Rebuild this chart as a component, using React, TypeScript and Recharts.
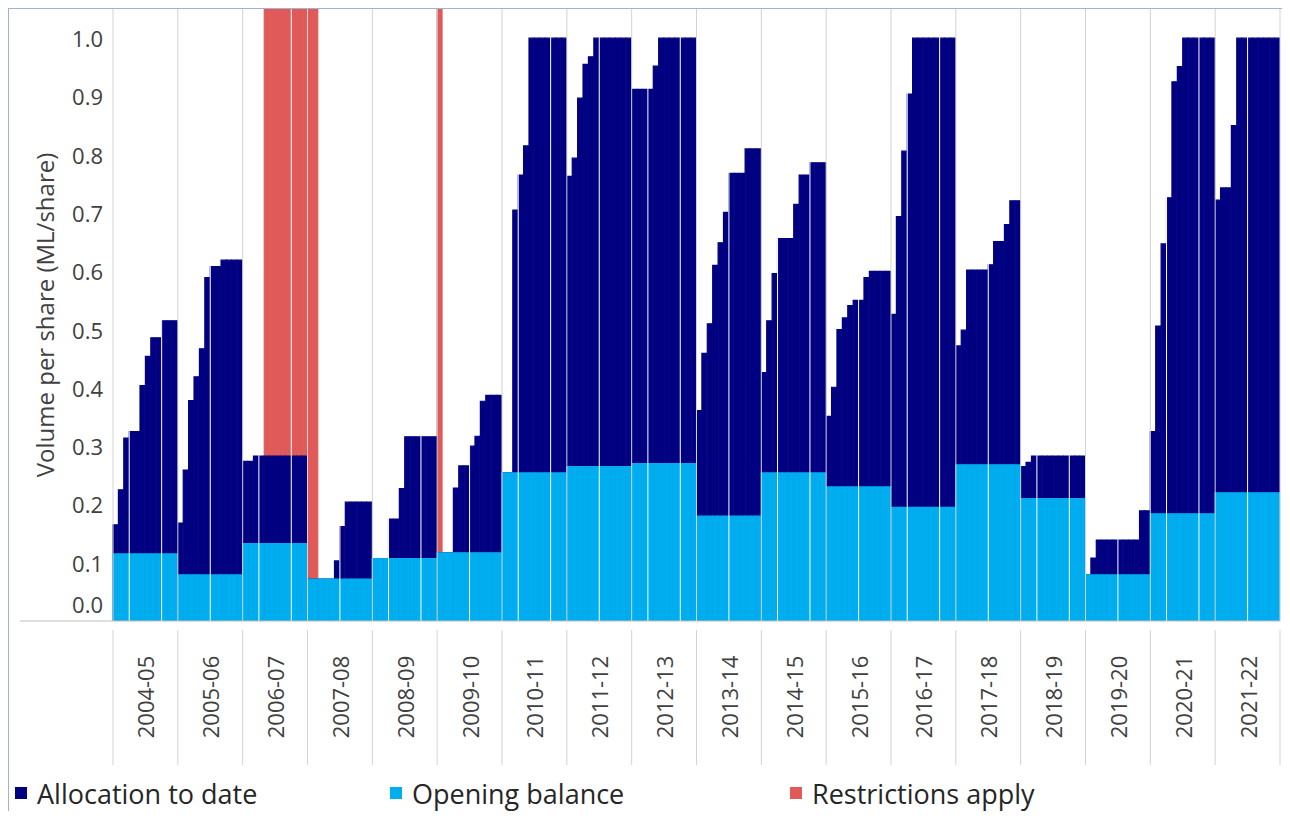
import React from "react";
import { BarChart, Bar, XAxis, YAxis, ReferenceLine } from "recharts";

// Water years shown on the category axis
const years = [
  "2004-05", "2005-06", "2006-07", "2007-08", "2008-09", "2009-10",
  "2010-11", "2011-12", "2012-13", "2013-14", "2014-15", "2015-16",
  "2016-17", "2017-18", "2018-19", "2019-20", "2020-21", "2021-22",
];

// Opening balance per year (ML/share), same for every month of the year
const openingBalance = [
  0.115, 0.079, 0.133, 0.072, 0.107, 0.117, 0.254, 0.265, 0.27,
  0.18, 0.254, 0.23, 0.195, 0.268, 0.21, 0.079, 0.184, 0.22,
];

// Allocation to date, read as the top of the dark bar, month by month
const allocationToDate = [
  [0.165, 0.225, 0.314, 0.325, 0.325, 0.404, 0.454, 0.486, 0.486, 0.515, 0.515, 0.515], // 2004-05
  [0.168, 0.259, 0.378, 0.419, 0.467, 0.589, 0.608, 0.608, 0.619, 0.619, 0.619, 0.619], // 2005-06
  [0.274, 0.274, 0.283, 0.283, 0.283, 0.283, 0.283, 0.283, 0.283, 0.283, 0.283, 0.283], // 2006-07
  [0.072, 0.072, 0.072, 0.072, 0.072, 0.103, 0.162, 0.204, 0.204, 0.204, 0.204, 0.204], // 2007-08
  [0.107, 0.107, 0.107, 0.175, 0.175, 0.227, 0.316, 0.316, 0.316, 0.316, 0.316, 0.316], // 2008-09
  [0.117, 0.117, 0.117, 0.228, 0.266, 0.266, 0.3, 0.317, 0.377, 0.387, 0.387, 0.387], // 2009-10
  [0.254, 0.254, 0.705, 0.765, 0.815, 1.0, 1.0, 1.0, 1.0, 1.0, 1.0, 1.0], // 2010-11
  [0.763, 0.794, 0.897, 0.955, 0.968, 1.0, 1.0, 1.0, 1.0, 1.0, 1.0, 1.0], // 2011-12
  [0.912, 0.912, 0.912, 0.912, 0.952, 1.0, 1.0, 1.0, 1.0, 1.0, 1.0, 1.0], // 2012-13
  [0.361, 0.459, 0.51, 0.61, 0.649, 0.701, 0.768, 0.768, 0.768, 0.81, 0.81, 0.81], // 2013-14
  [0.426, 0.515, 0.596, 0.656, 0.656, 0.656, 0.715, 0.765, 0.765, 0.786, 0.786, 0.786], // 2014-15
  [0.351, 0.401, 0.5, 0.52, 0.541, 0.55, 0.55, 0.589, 0.6, 0.6, 0.6, 0.6], // 2015-16
  [0.526, 0.694, 0.806, 0.904, 1.0, 1.0, 1.0, 1.0, 1.0, 1.0, 1.0, 1.0], // 2016-17
  [0.472, 0.499, 0.602, 0.602, 0.602, 0.602, 0.611, 0.651, 0.651, 0.68, 0.721, 0.721], // 2017-18
  [0.265, 0.272, 0.283, 0.283, 0.283, 0.283, 0.283, 0.283, 0.283, 0.283, 0.283, 0.283], // 2018-19
  [0.079, 0.108, 0.139, 0.139, 0.139, 0.139, 0.139, 0.139, 0.139, 0.139, 0.189, 0.189], // 2019-20
  [0.325, 0.506, 0.647, 0.726, 0.925, 0.951, 1.0, 1.0, 1.0, 1.0, 1.0, 1.0], // 2020-21
  [0.722, 0.743, 0.743, 0.85, 1.0, 1.0, 1.0, 1.0, 1.0, 1.0, 1.0, 1.0], // 2021-22
];

// Months (0 = first month of the water year) where restrictions apply
const restrictedMonths: Record<string, number[]> = {
  "2006-07": [4, 5, 6, 7, 8, 9, 10, 11],
  "2007-08": [0, 1],
  "2009-10": [0],
};
// restriction bars run off the top of the axis
const RESTRICTED_TOP = 1.05;

const yTicks = [0, 0.1, 0.2, 0.3, 0.4, 0.5, 0.6, 0.7, 0.8, 0.9, 1.0];

const data = years.flatMap((year, y) =>
  allocationToDate[y].map((total, m) => ({
    idx: y * 12 + m,
    year,
    total,
    opening: openingBalance[y],
    restricted: restrictedMonths[year]?.includes(m) ? RESTRICTED_TOP : null,
  }))
);

const FONT = "'Open Sans', 'DejaVu Sans', sans-serif";
const NAVY = "#000080";
const BLUE = "#00ADEF";
const RED = "#E05A5A";
const TEXT = "#404040";
const GRID = "#D3D3D3";

const CHART_W = 1273;
const CHART_H = 802;
const Y_AXIS_W = 104;
const MARGIN_R = 2;
const BAND = (CHART_W - Y_AXIS_W - MARGIN_R) / data.length;

function MonthTick(props: any) {
  const { x, y, payload } = props;
  const i = Number(payload.value);
  const m = i % 12;
  const half = BAND / 2;
  return (
    <g>
      {m === 0 && (
        <line x1={x - half} x2={x - half} y1={y + 9} y2={y + 144} stroke={GRID} />
      )}
      {i === data.length - 1 && (
        <line x1={x + half} x2={x + half} y1={y + 9} y2={y + 144} stroke={GRID} />
      )}
      {m === 5 && (
        <text
          transform={`translate(${x + half},${y + 76}) rotate(-90)`}
          textAnchor="middle"
          dominantBaseline="central"
          fontSize={22}
          fontFamily={FONT}
          fill={TEXT}
        >
          {years[Math.floor(i / 12)]}
        </text>
      )}
    </g>
  );
}

function ValueTick(props: any) {
  const { x, y, payload } = props;
  const isZero = payload.value === 0;
  return (
    <g>
      {isZero && <line x1={11} x2={x + 10} y1={y} y2={y} stroke="#BFBFBF" />}
      <text
        x={x}
        y={isZero ? y - 17 : y}
        textAnchor="end"
        dominantBaseline="central"
        fontSize={22}
        fontFamily={FONT}
        fill={TEXT}
      >
        {payload.value.toFixed(1)}
      </text>
    </g>
  );
}

const legendItems = [
  { label: "Allocation to date", color: NAVY, left: 6 },
  { label: "Opening balance", color: BLUE, left: 381 },
  { label: "Restrictions apply", color: RED, left: 781 },
];

export default function App() {
  return (
    <div
      style={{
        position: "relative",
        width: CHART_W,
        height: CHART_H,
        borderTop: "1px solid #9FB3D1",
        borderLeft: "1px solid #9FB3D1",
        fontFamily: FONT,
        background: "#fff",
      }}
    >
      <BarChart
        width={CHART_W}
        height={770}
        data={data}
        margin={{ top: 0, right: MARGIN_R, bottom: 0, left: 0 }}
        barCategoryGap={0}
        barGap={0}
      >
        <XAxis xAxisId="r" dataKey="idx" type="category" hide />
        <XAxis xAxisId="t" dataKey="idx" type="category" hide />
        <XAxis
          xAxisId="m"
          dataKey="idx"
          type="category"
          interval={0}
          height={158}
          tickLine={false}
          tickSize={0}
          tickMargin={0}
          axisLine={{ stroke: "#BFBFBF" }}
          tick={<MonthTick />}
        />
        <YAxis
          width={Y_AXIS_W}
          domain={[0, 1.05]}
          ticks={yTicks}
          allowDataOverflow
          axisLine={false}
          tickLine={false}
          tickSize={0}
          tickMargin={10}
          tick={<ValueTick />}
          label={{
            value: "Volume per share (ML/share)",
            angle: -90,
            position: "insideLeft",
            offset: 36,
            style: { textAnchor: "middle", fontSize: 24, fill: TEXT, fontFamily: FONT },
          }}
        />
        <Bar
          xAxisId="r"
          dataKey="restricted"
          fill={RED}
          stroke={RED}
          strokeWidth={1.2}
          barSize={BAND}
          isAnimationActive={false}
        />
        <Bar
          xAxisId="t"
          dataKey="total"
          fill={NAVY}
          stroke={NAVY}
          strokeWidth={1.2}
          barSize={BAND}
          isAnimationActive={false}
        />
        <Bar
          xAxisId="m"
          dataKey="opening"
          fill={BLUE}
          stroke={BLUE}
          strokeWidth={1.2}
          barSize={BAND}
          isAnimationActive={false}
        />
        {years.map((year, y) => {
          const subs = y % 2 === 0 ? [3, 9] : [6];
          return subs.map((m) => (
            <ReferenceLine
              key={`sub-${year}-${m}`}
              xAxisId="m"
              x={y * 12 + m}
              position="start"
              stroke="#FFFFFF"
              strokeWidth={1}
            />
          ));
        })}
        {years.map((year, y) => (
          <ReferenceLine
            key={`yr-${year}`}
            xAxisId="m"
            x={y * 12}
            position="start"
            stroke={GRID}
            strokeWidth={1}
          />
        ))}
        <ReferenceLine
          xAxisId="m"
          x={data.length - 1}
          position="end"
          stroke={GRID}
          strokeWidth={1}
        />
      </BarChart>
      {legendItems.map((item) => (
        <div
          key={item.label}
          style={{
            position: "absolute",
            left: item.left,
            top: 769,
            height: 30,
            display: "flex",
            alignItems: "center",
            fontSize: 27,
            color: "#262626",
            whiteSpace: "nowrap",
          }}
        >
          <span
            style={{
              display: "inline-block",
              width: 12,
              height: 12,
              background: item.color,
              marginRight: 10,
            }}
          />
          {item.label}
        </div>
      ))}
    </div>
  );
}
